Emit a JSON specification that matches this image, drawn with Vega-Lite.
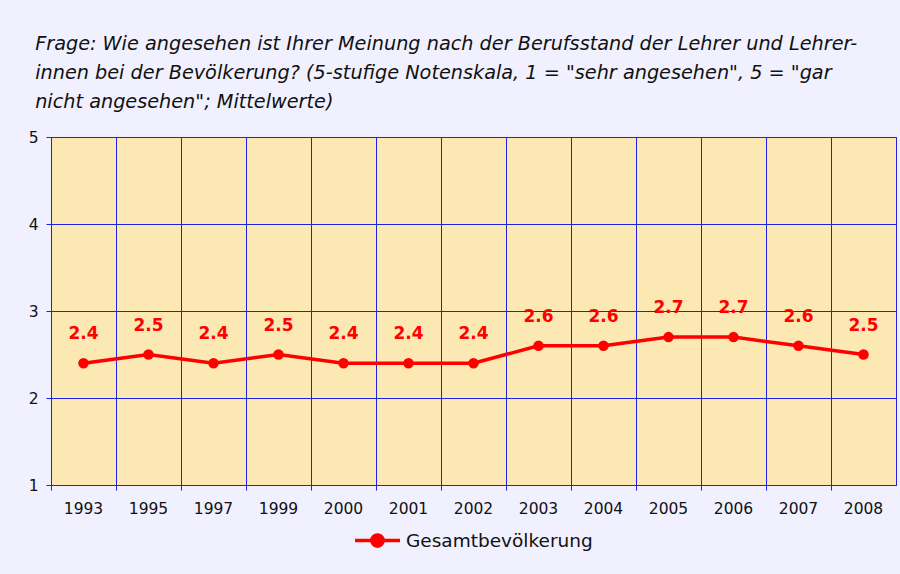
{
  "$schema": "https://vega.github.io/schema/vega-lite/v6.json",
  "width": 845,
  "height": 348,
  "autosize": {"type": "none"},
  "padding": {"left": 51, "top": 137, "right": 4, "bottom": 89},
  "background": "#f0f0fe",
  "title": {
    "text": [
      "Frage: Wie angesehen ist Ihrer Meinung nach der Berufsstand der Lehrer und Lehrer-",
      "innen bei der Bevölkerung? (5-stufige Notenskala, 1 = \"sehr angesehen\", 5 = \"gar",
      "nicht angesehen\"; Mittelwerte)"
    ],
    "anchor": "start",
    "dx": 7,
    "offset": 18,
    "font": "DejaVu Sans",
    "fontSize": 19.25,
    "fontStyle": "italic",
    "fontWeight": "normal",
    "lineHeight": 29,
    "color": "#111111"
  },
  "config": {
    "view": {"fill": "#fce8b2", "stroke": "#2020e8", "strokeWidth": 1},
    "axis": {
      "labelFont": "DejaVu Sans",
      "labelFontSize": 15.5,
      "labelColor": "#111111",
      "domainColor": "#2020e8",
      "tickColor": "#2020e8",
      "gridColor": "#2020e8",
      "gridOpacity": 1,
      "gridWidth": 1,
      "title": null
    }
  },
  "data": {
    "values": [
      {"Jahr": "1993", "Wert": 2.4, "Gruppe": "Gesamtbevölkerung"},
      {"Jahr": "1995", "Wert": 2.5, "Gruppe": "Gesamtbevölkerung"},
      {"Jahr": "1997", "Wert": 2.4, "Gruppe": "Gesamtbevölkerung"},
      {"Jahr": "1999", "Wert": 2.5, "Gruppe": "Gesamtbevölkerung"},
      {"Jahr": "2000", "Wert": 2.4, "Gruppe": "Gesamtbevölkerung"},
      {"Jahr": "2001", "Wert": 2.4, "Gruppe": "Gesamtbevölkerung"},
      {"Jahr": "2002", "Wert": 2.4, "Gruppe": "Gesamtbevölkerung"},
      {"Jahr": "2003", "Wert": 2.6, "Gruppe": "Gesamtbevölkerung"},
      {"Jahr": "2004", "Wert": 2.6, "Gruppe": "Gesamtbevölkerung"},
      {"Jahr": "2005", "Wert": 2.7, "Gruppe": "Gesamtbevölkerung"},
      {"Jahr": "2006", "Wert": 2.7, "Gruppe": "Gesamtbevölkerung"},
      {"Jahr": "2007", "Wert": 2.6, "Gruppe": "Gesamtbevölkerung"},
      {"Jahr": "2008", "Wert": 2.5, "Gruppe": "Gesamtbevölkerung"}
    ]
  },
  "encoding": {
    "x": {
      "field": "Jahr",
      "type": "ordinal",
      "scale": {"type": "band", "paddingInner": 0, "paddingOuter": 0},
      "axis": {
        "labelAngle": 0,
        "bandPosition": 0,
        "grid": true,
        "ticks": true,
        "tickSize": 5,
        "labelPadding": 11,
        "labelBaseline": "top"
      }
    },
    "y": {
      "field": "Wert",
      "type": "quantitative",
      "scale": {"domain": [1, 5], "nice": false},
      "axis": {
        "values": [1, 2, 3, 4, 5],
        "grid": true,
        "tickSize": 5,
        "labelPadding": 8,
        "format": "d"
      }
    }
  },
  "layer": [
    {
      "mark": {"type": "line", "strokeWidth": 3.5, "point": {"filled": true, "size": 110, "opacity": 1}},
      "encoding": {
        "color": {
          "field": "Gruppe",
          "type": "nominal",
          "scale": {"range": ["#ff0000"]},
          "legend": {
            "title": null,
            "orient": "none",
            "legendX": 302,
            "legendY": 379,
            "symbolType": "M-1,0L1,0M-0.25,0a0.25,0.25 0 1,0 0.5,0a0.25,0.25 0 1,0 -0.5,0",
            "symbolSize": 2025,
            "symbolStrokeWidth": 3.5,
            "symbolFillColor": "#ff0000",
            "symbolStrokeColor": "#ff0000",
            "labelFont": "DejaVu Sans",
            "labelFontSize": 18.5,
            "labelColor": "#111111",
            "labelOffset": 4,
            "labelLimit": 0
          }
        }
      }
    },
    {
      "mark": {"type": "text", "dy": -29, "font": "DejaVu Sans", "fontSize": 17, "fontWeight": "bold", "color": "#ff0000"},
      "encoding": {
        "text": {"field": "Wert", "type": "quantitative", "format": ".1f"}
      }
    }
  ]
}
